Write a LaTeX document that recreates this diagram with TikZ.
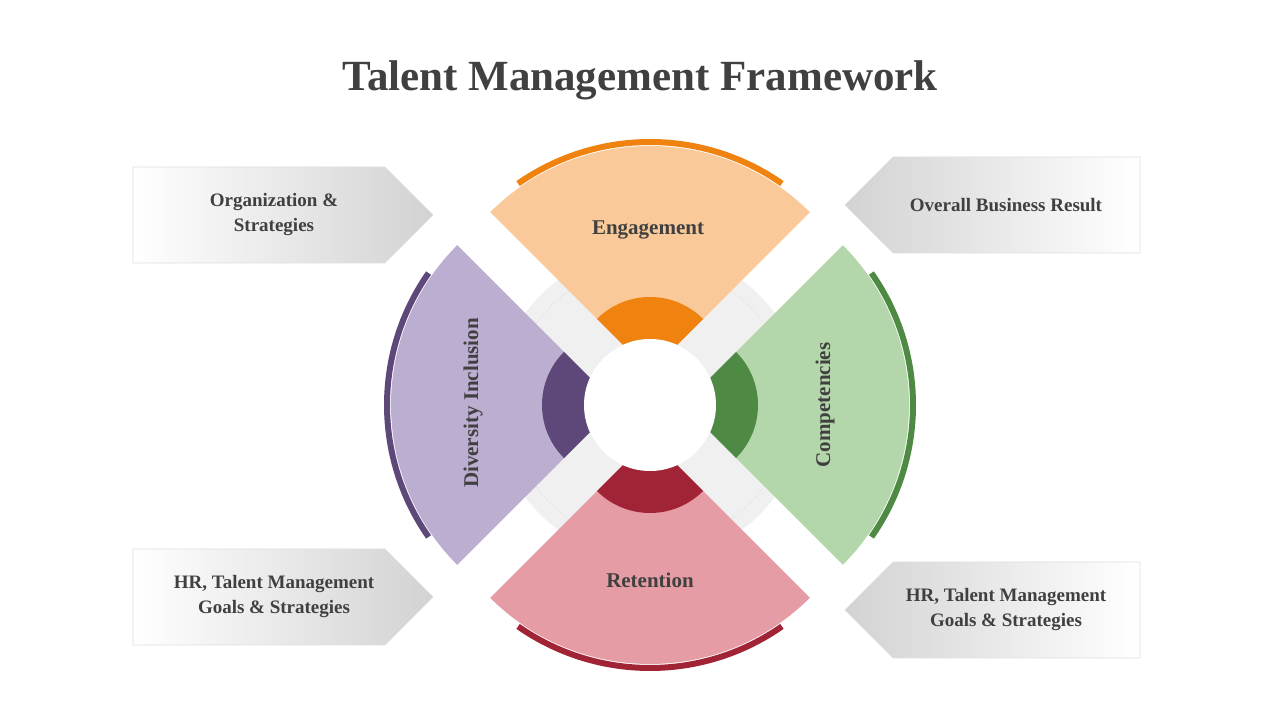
\documentclass[tikz,border=0pt]{standalone}
\usepackage{fontspec}
\setmainfont{Liberation Serif}
\usetikzlibrary{shadows}
\definecolor{tx}{HTML}{404040}
\definecolor{oF}{HTML}{FAC99A}\definecolor{oD}{HTML}{F0820F}
\definecolor{pF}{HTML}{BCAED0}\definecolor{pD}{HTML}{5E4879}
\definecolor{gF}{HTML}{B4D6AB}\definecolor{gD}{HTML}{4E8A43}
\definecolor{rF}{HTML}{E59CA5}\definecolor{rD}{HTML}{A12436}
\tikzset{lbl/.style={text=tx,font=\bfseries\fontsize{21}{25}\selectfont,align=center},
 accent/.style={line width=6pt},
 box/.style={draw=gray!25,line width=0.6pt}}
\begin{document}
\begin{tikzpicture}[x=1pt,y=1pt]
\useasboundingbox (0,0) rectangle (1280,720);
\fill[white] (0,0) rectangle (1280,720);
\node[text=tx,font=\bfseries\fontsize{43}{50}\selectfont] (title) at (640,640) {Talent Management Framework};
% background
\fill[gray!12] (650,315) circle (155);
\draw[gray!60,dotted] (650,315) circle (140);
% wedges
\fill[oF] (650,348) -- ++(45:226) arc (45:135:226) -- cycle;
\fill[pF] (617,315) -- ++(135:226) arc (135:225:226) -- cycle;
\fill[rF] (650,282) -- ++(225:226) arc (225:315:226) -- cycle;
\fill[gF] (683,315) -- ++(-45:226) arc (-45:45:226) -- cycle;
% accents
\draw[accent,oD] (650,348) ++(55:230) arc (55:125:230);
\draw[accent,pD] (617,315) ++(145:230) arc (145:215:230);
\draw[accent,rD] (650,282) ++(235:230) arc (235:305:230);
\draw[accent,gD] (683,315) ++(-35:230) arc (-35:35:230);
% inner
\fill[oD] (650,348) -- ++(45:75) arc (45:135:75) -- cycle;
\fill[pD] (617,315) -- ++(135:75) arc (135:225:75) -- cycle;
\fill[rD] (650,282) -- ++(225:75) arc (225:315:75) -- cycle;
\fill[gD] (683,315) -- ++(-45:75) arc (-45:45:75) -- cycle;
\fill[white,drop shadow={opacity=0.2,shadow xshift=0pt,shadow yshift=0pt}] (650,315) circle (66);
% labels
\node[lbl] (eng) at (648,490) {Engagement};
\node[lbl] (ret) at (650,140) {Retention};
\node[lbl,rotate=90] (div) at (473,317) {Diversity Inclusion};
\node[lbl,rotate=90] (com) at (825,315) {Competencies};
% callouts
\shade[box,left color=white,right color=gray!35] (133,553) -- (385,553) -- (433,505) -- (385,457) -- (133,457) -- cycle;
\node[lbl,font=\bfseries\fontsize{19}{25}\selectfont] (b1) at (274,505) {Organization \&\\Strategies};
\shade[box,left color=white,right color=gray!35] (133,171) -- (385,171) -- (433,123) -- (385,75) -- (133,75) -- cycle;
\node[lbl,font=\bfseries\fontsize{19}{25}\selectfont] (b3) at (274,123) {HR, Talent Management\\Goals \& Strategies};
\shade[box,left color=gray!35,right color=white] (1140,563) -- (893,563) -- (845,515) -- (893,467) -- (1140,467) -- cycle;
\node[lbl,font=\bfseries\fontsize{19}{25}\selectfont] (b2) at (1006,515) {Overall Business Result};
\shade[box,left color=gray!35,right color=white] (1140,158) -- (893,158) -- (845,110) -- (893,62) -- (1140,62) -- cycle;
\node[lbl,font=\bfseries\fontsize{19}{25}\selectfont] (b4) at (1006,110) {HR, Talent Management\\Goals \& Strategies};
\end{tikzpicture}
\end{document}
